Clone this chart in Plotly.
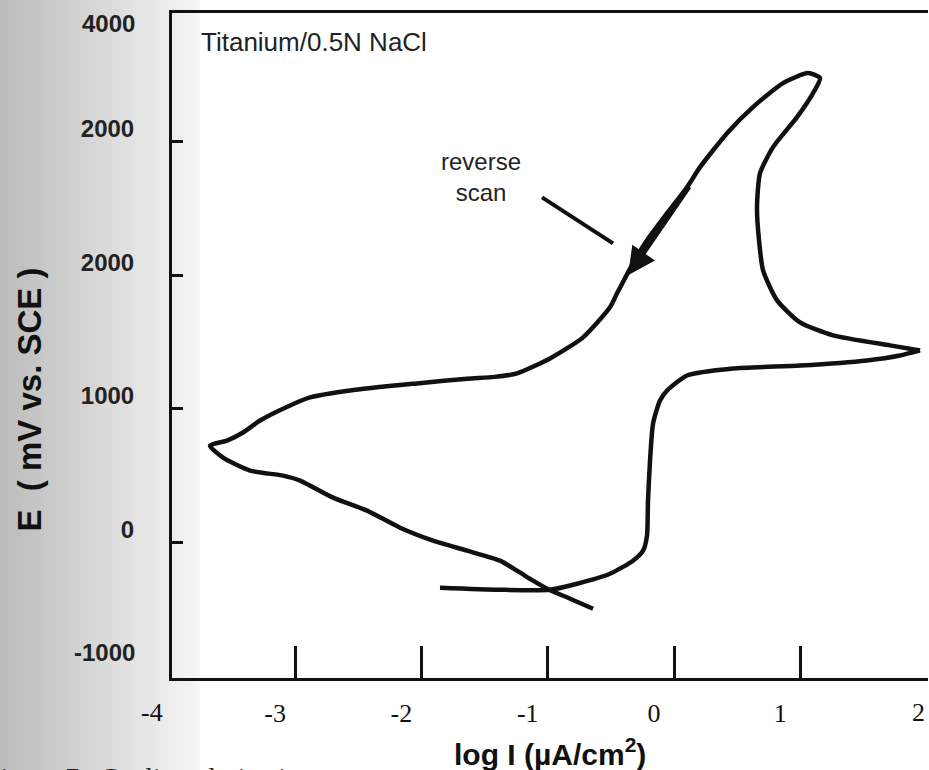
import plotly.graph_objects as go

# ---- data (log I in uA/cm2, E in mV vs SCE) ----
fwd_logi = [-1.853, -1.378, -0.982, -0.768, -0.507, -0.325, -0.245, -0.214, -0.206,
            -0.190, -0.166, -0.111, -0.055, 0.103, 0.467, 0.998, 1.528, 1.789, 1.948]
fwd_E = [-340, -355, -355, -310, -235, -137, -62, 50, 313,
         613, 890, 1063, 1138, 1250, 1303, 1325, 1363, 1400, 1438]

rev_logi = [1.948, 1.710, 1.259, 0.998, 0.816, 0.705, 0.673, 0.657, 0.681, 0.784,
            0.974, 1.101, 1.156, 1.061, 0.863, 0.625, 0.420, 0.206, 0.103, -0.055,
            -0.214, -0.325, -0.451, -0.507, -0.720, -0.982, -1.243, -1.420, -1.639, -2.035,
            -2.565, -2.882, -3.040, -3.278, -3.412, -3.539, -3.674, -3.571, -3.357, -3.096,
            -2.961, -2.700, -2.431, -2.169, -1.908, -1.639, -1.378, -1.243, -1.116, -1.006,
            -0.823, -0.641]
rev_E = [1438, 1476, 1551, 1648, 1813, 2038, 2263, 2511, 2766, 2961,
         3186, 3366, 3478, 3516, 3441, 3261, 3066, 2811, 2661, 2466,
         2263, 2091, 1866, 1761, 1536, 1378, 1266, 1240, 1226, 1191,
         1138, 1086, 1026, 913, 823, 763, 725, 635, 538, 500,
         463, 335, 238, 110, 13, -62, -137, -212, -287, -347,
         -422, -497]

x_tickvals = [-3, -2, -1, 0, 1]
x_ticktext = ["-3", "-2", "-1", "0", "1"]
x_edge_labels = ["-4", "2"]
y_tickvals = [3000, 2000, 1000, 0]
y_ticktext = ["2000", "2000", "1000", "0"]
y_edge_labels = ["4000", "-1000"]

title_text = "Titanium/0.5N NaCl"
arrow_text = "reverse<br>scan"
x_title = "log I (\u00b5A/cm<sup>2</sup>)"
y_title = "E  ( mV vs. SCE )"
caption = "Figure 7.  Cyclic polarization"

SANS = "Liberation Sans, Arial, Helvetica, sans-serif"
SERIF = "Liberation Serif, Times New Roman, serif"

fig = go.Figure()
line_style = dict(color="#111111", width=4.5, shape="spline", smoothing=0.6)
fig.add_trace(go.Scatter(x=fwd_logi, y=fwd_E, mode="lines", line=line_style,
                         name="forward scan", showlegend=False, hoverinfo="skip"))
fig.add_trace(go.Scatter(x=rev_logi, y=rev_E, mode="lines", line=line_style,
                         name="reverse scan", showlegend=False, hoverinfo="skip"))

# scanned-page grey gradient on the left (smooth-ish steps)
shapes = []
L, W = 172, 756
n_steps = 50
for i in range(n_steps):
    px0 = i * 4
    t = i / (n_steps - 1)
    g = int(188 + (246 - 188) * t)
    shapes.append(dict(type="rect", xref="paper", yref="paper",
                       x0=(px0 - L) / W, x1=(px0 + 4 - L) / W,
                       y0=-0.2, y1=1.05, fillcolor=f"rgb({g},{g},{g})",
                       line=dict(width=0), layer="below"))

# pointer line for the "reverse scan" label
shapes.append(dict(type="line", xref="x", yref="y", x0=-1.045, y0=2585, x1=-0.483, y1=2240,
                   line=dict(color="#111111", width=4)))

annotations = [
    dict(text=title_text, xref="paper", yref="paper", x=0.0357, y=0.9563,
         xanchor="left", yanchor="middle", showarrow=False,
         font=dict(family=SANS, size=26, color="#222222")),
    dict(text=arrow_text, xref="x", yref="y", x=-1.528, y=2736, showarrow=False,
         xanchor="center", yanchor="middle", align="center",
         font=dict(family=SANS, size=24, color="#222222")),
    # direction arrow on the reverse branch
    dict(text="", xref="x", yref="y", x=-0.364, y=2001, axref="x", ayref="y",
         ax=0.127, ay=2676, showarrow=True, arrowhead=2, arrowsize=1.1,
         arrowwidth=5, arrowcolor="#111111"),
    # edge tick labels
    dict(text=y_edge_labels[0], xref="paper", yref="paper", x=(137 - L) / W, y=(678 - 24) / 664,
         xanchor="right", yanchor="middle", showarrow=False,
         font=dict(family=SANS, size=24, color="#222222", weight="bold")),
    dict(text=y_edge_labels[1], xref="paper", yref="paper", x=(137 - L) / W, y=(678 - 653) / 664,
         xanchor="right", yanchor="middle", showarrow=False,
         font=dict(family=SANS, size=24, color="#222222", weight="bold")),
    dict(text=x_edge_labels[0], xref="paper", yref="paper", x=(152 - L) / W, y=(678 - 712) / 664,
         xanchor="center", yanchor="middle", showarrow=False,
         font=dict(family=SERIF, size=26, color="#111111")),
    dict(text=x_edge_labels[1], xref="paper", yref="paper", x=(918 - L) / W, y=(678 - 712) / 664,
         xanchor="center", yanchor="middle", showarrow=False,
         font=dict(family=SERIF, size=26, color="#111111")),
    # axis titles
    dict(text=x_title, xref="paper", yref="paper", x=0.5, y=(678 - 752) / 664,
         xanchor="center", yanchor="middle", showarrow=False,
         font=dict(family=SANS, size=30, color="#111111", weight="bold")),
    dict(text=y_title, xref="paper", yref="paper", x=(30 - L) / W, y=(678 - 400) / 664,
         xanchor="center", yanchor="middle", showarrow=False, textangle=-90,
         font=dict(family=SANS, size=33, color="#111111", weight="bold")),
    # cut-off caption of the scanned page
    dict(text=caption, xref="paper", yref="paper", x=(-17 - L) / W, y=(678 - 760) / 664,
         xanchor="left", yanchor="top", showarrow=False,
         font=dict(family=SERIF, size=28, color="#222222")),
]

fig.update_layout(
    width=929, height=770,
    margin=dict(l=172, r=1, t=13, b=92),
    paper_bgcolor="#ffffff", plot_bgcolor="#ffffff",
    shapes=shapes, annotations=annotations, showlegend=False,
    xaxis=dict(range=[-3.975, 2.011], showgrid=False, zeroline=False,
               showline=True, linecolor="#111111", linewidth=3, mirror=True,
               tickmode="array", tickvals=x_tickvals, ticktext=x_ticktext,
               ticks="inside", ticklen=32, tickwidth=2.5, tickcolor="#111111",
               ticklabelshift=-20, ticklabelstandoff=10,
               tickfont=dict(family=SERIF, size=26, color="#111111")),
    yaxis=dict(range=[-1016, 3966], showgrid=False, zeroline=False,
               showline=True, linecolor="#111111", linewidth=3, mirror=False,
               tickmode="array", tickvals=y_tickvals, ticktext=y_ticktext,
               ticks="inside", ticklen=11, tickwidth=2.5, tickcolor="#111111",
               ticklabelshift=-13, ticklabelstandoff=30,
               tickfont=dict(family=SANS, size=24, color="#222222", weight="bold")),
)

fig.write_html("out.html")
